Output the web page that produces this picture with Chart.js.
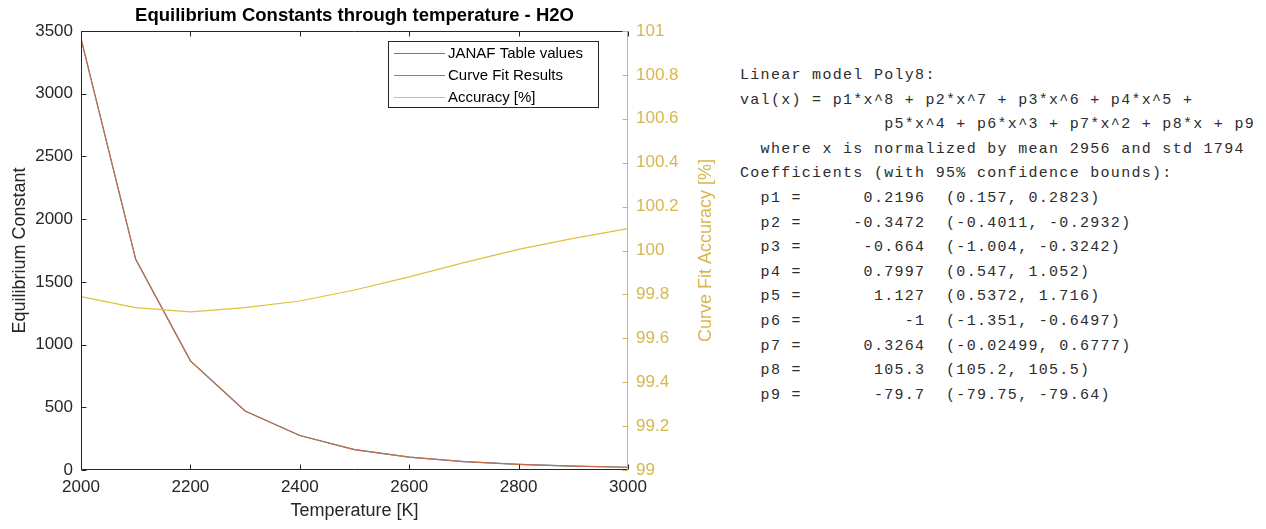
<!DOCTYPE html>
<html>
<head>
<meta charset="utf-8">
<script src="https://cdn.jsdelivr.net/npm/chart.js@4/dist/chart.umd.min.js"></script>
<style>
  html, body { margin: 0; padding: 0; background: #ffffff; }
  #wrap { position: relative; width: 1266px; height: 529px; overflow: hidden; background: #ffffff; }
  #chart { position: absolute; left: 0; top: 0; }
  #fit {
    position: absolute; left: 740px; top: 64px; margin: 0;
    font-family: 'Liberation Mono', monospace; font-size: 15px;
    letter-spacing: 1.3px; line-height: 24.6px; color: #2c2c2c; white-space: pre;
  }
</style>
</head>
<body>
<div id="wrap">
  <canvas id="chart" width="730" height="529"></canvas>
  <div id="fit"></div>
</div>
<script>
// Temperatures of the table points [K]
const temperatureK = [2000, 2100, 2200, 2300, 2400, 2500, 2600, 2700, 2800, 2900, 3000];
// Equilibrium constant from the JANAF tables
const janafK = [3440, 1680, 870, 470, 275, 163, 103, 67, 45, 31, 22];
// Equilibrium constant from the Poly8 fit
const fitK = [3440, 1680, 870, 470, 275, 163, 103, 67, 45, 31, 22];
// Fit accuracy [%]
const accuracyPct = [99.79, 99.74, 99.72, 99.74, 99.77, 99.82, 99.88, 99.945, 100.005, 100.055, 100.10];

const seriesNames = ['JANAF Table values', 'Curve Fit Results', 'Accuracy [%]'];
const chartTitle = 'Equilibrium Constants through temperature - H2O';
const rightAxisTitle = 'Curve Fit Accuracy [%]';

// Axis ticks
const tempTicks = [2000, 2200, 2400, 2600, 2800, 3000];
const kTicks = [0, 500, 1000, 1500, 2000, 2500, 3000, 3500];
const accTicks = [99, 99.2, 99.4, 99.6, 99.8, 100, 100.2, 100.4, 100.6, 100.8, 101];

// Poly8 fit coefficients with 95% confidence bounds
const coefNames = ['p1', 'p2', 'p3', 'p4', 'p5', 'p6', 'p7', 'p8', 'p9'];
const coefValues = ['0.2196', '-0.3472', '-0.664', '0.7997', '1.127', '-1', '0.3264', '105.3', '-79.7'];
const coefLower = ['0.157', '-0.4011', '-1.004', '0.547', '0.5372', '-1.351', '-0.02499', '105.2', '-79.75'];
const coefUpper = ['0.2823', '-0.2932', '-0.3242', '1.052', '1.716', '-0.6497', '0.6777', '105.5', '-79.64'];
const normMean = 2956;
const normStd = 1794;

// Fit summary text
const fitLines = [
  'Linear model Poly8:',
  'val(x) = p1*x^8 + p2*x^7 + p3*x^6 + p4*x^5 +',
  '              p5*x^4 + p6*x^3 + p7*x^2 + p8*x + p9',
  '  where x is normalized by mean ' + normMean + ' and std ' + normStd,
  'Coefficients (with 95% confidence bounds):'
];
coefNames.forEach((n, i) => {
  fitLines.push('  ' + n + ' =' + coefValues[i].padStart(12) + '  (' + coefLower[i] + ', ' + coefUpper[i] + ')');
});
document.getElementById('fit').textContent = fitLines.join('\n');

const COL_BLUE = '#2f8fc2';
const COL_RED = '#cd6a44';
const COL_YEL = '#dcc23e';
const COL_GOLD = '#d6b74e';
const COL_AX = '#262626';
const FONT = 'Liberation Sans, Arial, sans-serif';

const pts = (ys) => temperatureK.map((t, i) => ({ x: t, y: ys[i] }));

// Title, box, inward tick marks, right axis label and legend
const framePlugin = {
  id: 'frame',
  afterDraw(chart) {
    const { ctx, chartArea: a, scales } = chart;
    const L = Math.round(a.left) + 0.5, R = Math.round(a.right) - 0.5;
    const T = Math.round(a.top) + 0.5, B = Math.round(a.bottom) - 0.5;
    const tk = 5;
    ctx.save();

    // title centred over the plot box
    ctx.fillStyle = '#000000';
    ctx.font = 'bold 18.5px ' + FONT;
    ctx.textAlign = 'center';
    ctx.textBaseline = 'middle';
    ctx.fillText(chartTitle, (a.left + a.right) / 2, 16);

    ctx.lineWidth = 1;
    ctx.strokeStyle = COL_AX;
    ctx.beginPath();
    ctx.moveTo(R, T); ctx.lineTo(L, T); ctx.lineTo(L, B); ctx.lineTo(R, B);
    tempTicks.forEach(v => {
      const px = Math.round(scales.x.getPixelForValue(v)) + 0.5;
      ctx.moveTo(px, B); ctx.lineTo(px, B - tk);
      ctx.moveTo(px, T); ctx.lineTo(px, T + tk);
    });
    kTicks.forEach(v => {
      const py = Math.round(scales.y.getPixelForValue(v)) + 0.5;
      ctx.moveTo(L, py); ctx.lineTo(L + tk, py);
    });
    ctx.stroke();

    ctx.strokeStyle = COL_GOLD;
    ctx.beginPath();
    ctx.moveTo(R, T); ctx.lineTo(R, B);
    accTicks.forEach(v => {
      const py = Math.round(scales.y2.getPixelForValue(v)) + 0.5;
      ctx.moveTo(R, py); ctx.lineTo(R - tk, py);
    });
    ctx.stroke();

    // right axis label, reading bottom to top
    ctx.fillStyle = COL_GOLD;
    ctx.font = '18px ' + FONT;
    ctx.translate(706, (a.top + a.bottom) / 2);
    ctx.rotate(-Math.PI / 2);
    ctx.fillText(rightAxisTitle, 0, 0);
    ctx.restore();

    // legend
    const bx = 388.5, by = 41.5, bw = 210, bh = 66;
    ctx.save();
    ctx.fillStyle = '#ffffff';
    ctx.fillRect(bx, by, bw, bh);
    ctx.strokeStyle = COL_AX;
    ctx.lineWidth = 1;
    ctx.strokeRect(bx, by, bw, bh);
    ctx.font = '15px ' + FONT;
    ctx.textAlign = 'left';
    ctx.textBaseline = 'middle';
    chart.data.datasets.forEach((ds, i) => {
      const cy = Math.round(by + 11 + i * 22) + 0.5;
      ctx.strokeStyle = ds.borderColor;
      ctx.beginPath();
      ctx.moveTo(394, cy); ctx.lineTo(445, cy);
      ctx.stroke();
      ctx.fillStyle = '#000000';
      ctx.fillText(ds.label, 448, cy + 0.5);
    });
    ctx.restore();
  }
};

new Chart(document.getElementById('chart'), {
  type: 'line',
  data: {
    datasets: [
      { label: seriesNames[0], data: pts(janafK), borderColor: COL_BLUE, borderWidth: 1.2, pointRadius: 0, yAxisID: 'y', order: 3, tension: 0 },
      { label: seriesNames[1], data: pts(fitK), borderColor: COL_RED, borderWidth: 1.2, pointRadius: 0, yAxisID: 'y', order: 2, tension: 0 },
      { label: seriesNames[2], data: pts(accuracyPct), borderColor: COL_YEL, borderWidth: 1.2, pointRadius: 0, yAxisID: 'y2', order: 1, tension: 0 }
    ]
  },
  options: {
    responsive: false,
    animation: false,
    devicePixelRatio: 1,
    layout: { padding: { top: 31, left: 0, right: 0, bottom: 0 } },
    plugins: {
      legend: { display: false },
      tooltip: { enabled: false },
      title: { display: false }
    },
    scales: {
      x: {
        type: 'linear', position: 'bottom', min: 2000, max: 3000,
        afterBuildTicks: s => { s.ticks = tempTicks.map(v => ({ value: v })); },
        afterFit: s => { s.height = 59; },
        grid: { display: false, drawTicks: false },
        border: { display: false },
        ticks: { color: COL_AX, font: { family: FONT, size: 17 }, padding: 7, autoSkip: false, maxRotation: 0, callback: v => String(v) },
        title: { display: true, text: 'Temperature [K]', color: COL_AX, font: { family: FONT, size: 18 }, padding: { top: 0, bottom: 7 } }
      },
      y: {
        type: 'linear', position: 'left', min: 0, max: 3500,
        afterBuildTicks: s => { s.ticks = kTicks.map(v => ({ value: v })); },
        afterFit: s => { s.width = 81; },
        grid: { display: false, drawTicks: false },
        border: { display: false },
        ticks: { color: COL_AX, font: { family: FONT, size: 17 }, padding: 8, autoSkip: false, callback: v => String(v) },
        title: { display: true, text: 'Equilibrium Constant', color: COL_AX, font: { family: FONT, size: 18 }, padding: { top: 9, bottom: 0 } }
      },
      y2: {
        type: 'linear', position: 'right', min: 99, max: 101,
        afterBuildTicks: s => { s.ticks = accTicks.map(v => ({ value: v })); },
        afterFit: s => { s.width = 102; },
        grid: { display: false, drawTicks: false },
        border: { display: false },
        ticks: { color: COL_GOLD, font: { family: FONT, size: 17 }, padding: 8, autoSkip: false, callback: v => String(Number(v.toFixed(1))) }
      }
    }
  },
  plugins: [framePlugin]
});
</script>
</body>
</html>
